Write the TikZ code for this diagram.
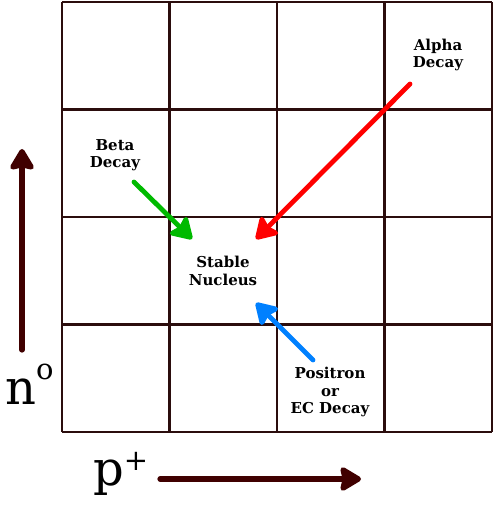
\documentclass[tikz,border=0pt]{standalone}
\usepackage{fontspec}
\setmainfont{DejaVu Serif}
\usetikzlibrary{arrows.meta, calc, positioning}
\definecolor{gridbrown}{rgb}{0.17,0.05,0.05}
\definecolor{axismaroon}{rgb}{0.25,0.0,0.0}
\definecolor{betagreen}{rgb}{0.0,0.73,0.0}
\definecolor{alphared}{rgb}{1.0,0.0,0.0}
\definecolor{positronblue}{rgb}{0.0,0.5,1.0}

\begin{document}
\begin{tikzpicture}[x=1pt,y=-1pt,
		decaytext/.style={align=center, font=\fontsize{15}{17.5}\selectfont\bfseries, inner sep=0pt},
		decayarrow/.style={line width=4.8pt, line cap=round, -{Stealth[length=24pt, width=29pt, inset=4pt, round]}},
		axisarrow/.style={axismaroon, line width=5.2pt, line cap=round, -{Stealth[length=24pt, width=28pt, inset=3pt, round]}}]
				\useasboundingbox (0,0) rectangle (493,513);
				
				%--------------------------------------------------------------------
				\foreach \k in {0,...,4} {
					\draw[gridbrown, line width=2.2pt] (62+107.5*\k,2) -- (62+107.5*\k,432);
					\draw[gridbrown, line width=2.2pt] (62,2+107.5*\k) -- (492,2+107.5*\k);
				}
				
				%--------------------------------------------------------------------
				\node(alpha) [decaytext] at (438,55) {Alpha\\Decay};
				\node(beta) [decaytext] at (115,155) {Beta\\Decay};
				\node(stable) [decaytext] at (223,271) {Stable\\Nucleus};
				\node(positron) [decaytext] at (330,392) {Positron\\or\\EC Decay};
				
				\coordinate(alphastart) at (410,84);
				\coordinate(alphaend) at (256,239);
				\coordinate(betastart) at (134,182);
				\coordinate(betaend) at (192,239);
				\coordinate(positronstart) at (313,360);
				\coordinate(positronend) at (256,303);
				
				\draw[decayarrow, alphared] (alphastart) -- (alphaend);
				\draw[decayarrow, betagreen] (betastart) -- (betaend);
				\draw[decayarrow, positronblue] (positronstart) -- (positronend);
				
				%---------------------------------------------------------------------
				\node(neutron) [anchor=base west, inner sep=0pt, font=\fontsize{48}{48}\selectfont] at (5,404) {n\raisebox{25pt}{\fontsize{29}{29}\selectfont o}};
				\node(proton) [anchor=base west, inner sep=0pt, font=\fontsize{48}{48}\selectfont] at (93,485) {p\raisebox{15pt}{\fontsize{29}{29}\selectfont +}};
				
				\coordinate(nstart) at (22,350);
				\coordinate(nend) at (22,149);
				\coordinate(pstart) at (160,479);
				\coordinate(pend) at (361,479);
				
				\draw[axisarrow] (nstart) -- (nend);
				\draw[axisarrow] (pstart) -- (pend);
				
			\end{tikzpicture}
\end{document}
